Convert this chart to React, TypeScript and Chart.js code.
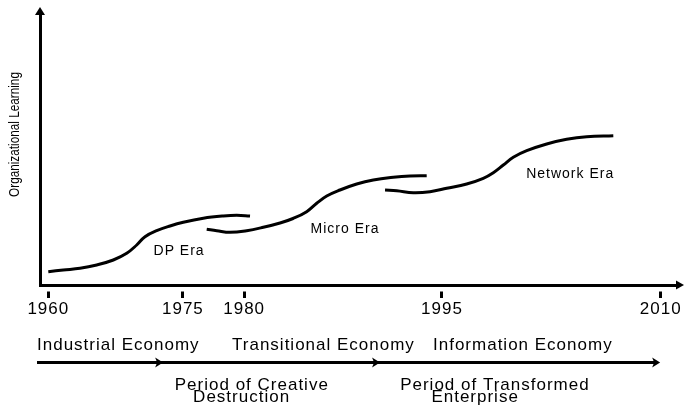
import React, { useEffect, useRef } from 'react';
import { Chart, registerables } from 'chart.js';

Chart.register(...registerables);

// ---- data (x: position on the era timeline, 0-100; y: organizational learning, 0-100) ----
const tickYears = ['1960', '1975', '1980', '1995', '2010'];
const tickPositions = [1.3, 22.4, 32.0, 63.0, 97.3];

const dpEraX = [1.3, 3.65, 6.27, 8.89, 11.49, 13.59, 15.16, 16.46, 18.29, 20.38, 22.46, 25.6, 28.73, 30.83, 32.92];
const dpEraY = [4.91, 5.54, 6.16, 7.38, 9.23, 11.7, 14.76, 17.82, 20.04, 21.77, 23.14, 24.61, 25.46, 25.72, 25.46];

const microEraX = [26.13, 27.7, 29.78, 32.4, 35.0, 37.62, 39.66, 41.8, 43.37, 44.94, 47.02, 49.64, 52.24, 55.38, 57.99, 60.61];
const microEraY = [20.55, 20.04, 19.45, 20.04, 21.29, 22.88, 24.54, 27.05, 30.15, 32.84, 35.06, 37.27, 38.75, 39.74, 40.22, 40.33];

const networkEraX = [54.08, 55.91, 58.51, 61.13, 63.75, 66.88, 69.48, 71.05, 72.62, 74.18, 76.29, 79.42, 82.55, 85.69, 89.86];
const networkEraY = [35.06, 34.8, 34.06, 34.43, 35.68, 37.27, 39.37, 41.44, 44.28, 47.12, 49.56, 52.03, 53.76, 54.72, 55.09];

const eraLabels = ['DP Era', 'Micro Era', 'Network Era'];
const eraLabelX = [21.8, 47.8, 83.1];
const eraLabelY = [11.1, 19.2, 39.5];

const economies = ['Industrial Economy', 'Transitional Economy', 'Information Economy'];
const economyStartX = [-0.47, 30.1, 61.6];
const timelineArrowTips = [19.3, 53.3, 97.2];
const periodLines = [
  ['Period of Creative', 'Destruction'],
  ['Period of Transformed', 'Enterprise'],
];
const periodCenterX = [
  [33.2, 31.6],
  [71.3, 68.2],
];
const yTitle = 'Organizational Learning';

// ---- styling ----
const FONT = "'Liberation Sans', Arial, Helvetica, sans-serif";
const INK = '#000000';

const seg = (xs: number[], ys: number[]) => xs.map((v, i) => ({ x: v, y: ys[i] }));

const lineStyle = {
  borderColor: INK,
  borderWidth: 3,
  pointRadius: 0,
  tension: 0.4,
  fill: false,
};

const decorPlugin = {
  id: 'decor',
  beforeDraw(chart: any) {
    chart.ctx.letterSpacing = '1px';
  },
  afterDatasetsDraw(chart: any) {
    const { ctx, scales } = chart;
    const { x, y } = scales;
    ctx.save();
    ctx.letterSpacing = '1px';
    ctx.fillStyle = INK;
    ctx.font = `14px ${FONT}`;
    ctx.textAlign = 'center';
    ctx.textBaseline = 'alphabetic';
    eraLabels.forEach((t, i) => {
      ctx.fillText(t, x.getPixelForValue(eraLabelX[i]), y.getPixelForValue(eraLabelY[i]));
    });
    ctx.restore();
  },
  afterDraw(chart: any) {
    const { ctx, chartArea: a, scales } = chart;
    const { x } = scales;
    ctx.save();
    ctx.fillStyle = INK;
    ctx.strokeStyle = INK;

    // axis arrowheads
    ctx.beginPath();
    ctx.moveTo(a.left, a.top - 7);
    ctx.lineTo(a.left - 5, a.top + 1);
    ctx.lineTo(a.left + 5, a.top + 1);
    ctx.closePath();
    ctx.fill();

    ctx.beginPath();
    ctx.moveTo(a.right + 6, a.bottom);
    ctx.lineTo(a.right - 2, a.bottom - 4.5);
    ctx.lineTo(a.right - 2, a.bottom + 4.5);
    ctx.closePath();
    ctx.fill();

    // y-axis title (condensed)
    ctx.save();
    ctx.letterSpacing = '0px';
    ctx.translate(19, (a.top + a.bottom) / 2 - 15);
    ctx.rotate(-Math.PI / 2);
    ctx.scale(0.84, 1);
    ctx.font = `14px ${FONT}`;
    ctx.textAlign = 'center';
    ctx.textBaseline = 'alphabetic';
    ctx.fillText(yTitle, 0, 0);
    ctx.restore();

    // economy timeline
    ctx.letterSpacing = '1px';
    ctx.font = `17px ${FONT}`;
    ctx.textBaseline = 'alphabetic';
    ctx.textAlign = 'left';
    economies.forEach((t, i) => {
      ctx.fillText(t, x.getPixelForValue(economyStartX[i]), a.bottom + 65);
    });

    const ay = a.bottom + 77.5;
    const startX = x.getPixelForValue(economyStartX[0]);
    const endX = x.getPixelForValue(timelineArrowTips[timelineArrowTips.length - 1]);
    ctx.lineWidth = 3;
    ctx.beginPath();
    ctx.moveTo(startX, ay);
    ctx.lineTo(endX - 4, ay);
    ctx.stroke();
    timelineArrowTips.forEach((v) => {
      const tx = x.getPixelForValue(v);
      ctx.beginPath();
      ctx.moveTo(tx, ay);
      ctx.lineTo(tx - 8, ay - 5);
      ctx.lineTo(tx - 6, ay);
      ctx.lineTo(tx - 8, ay + 5);
      ctx.closePath();
      ctx.fill();
    });

    ctx.textAlign = 'center';
    periodLines.forEach((lines, i) => {
      lines.forEach((t, j) => {
        ctx.fillText(t, x.getPixelForValue(periodCenterX[i][j]), a.bottom + 105 + j * 12);
      });
    });

    ctx.restore();
  },
};

export default function App() {
  const ref = useRef<HTMLCanvasElement>(null);

  useEffect(() => {
    document.body.style.margin = '0';
    const canvas = ref.current;
    if (!canvas) return;
    const chart = new Chart(canvas, {
      type: 'line',
      data: {
        datasets: [
          { label: 'DP Era', data: seg(dpEraX, dpEraY), ...lineStyle },
          { label: 'Micro Era', data: seg(microEraX, microEraY), ...lineStyle },
          { label: 'Network Era', data: seg(networkEraX, networkEraY), ...lineStyle },
        ],
      },
      options: {
        responsive: false,
        animation: false,
        events: [],
        layout: { padding: { top: 14, right: 8, left: 0, bottom: 0 } },
        plugins: {
          legend: { display: false },
          tooltip: { enabled: false },
          title: { display: false },
        },
        scales: {
          x: {
            type: 'linear',
            min: 0,
            max: 100,
            afterBuildTicks: (scale: any) => {
              scale.ticks = tickPositions.map((v) => ({ value: v }));
            },
            afterFit: (scale: any) => {
              scale.height = 121;
            },
            ticks: {
              autoSkip: false,
              maxRotation: 0,
              padding: 1,
              color: INK,
              font: { family: FONT, size: 17 },
              callback: (value: any) => {
                const i = tickPositions.indexOf(Number(value));
                return i >= 0 ? tickYears[i] : '';
              },
            },
            grid: {
              display: true,
              drawOnChartArea: false,
              drawTicks: true,
              tickLength: 13,
              tickWidth: 3,
              tickColor: INK,
              tickBorderDash: [7, 4.5],
              tickBorderDashOffset: 7,
            },
            border: { display: true, color: INK, width: 3 },
          },
          y: {
            type: 'linear',
            min: 0,
            max: 100,
            afterFit: (scale: any) => {
              scale.width = 40;
            },
            ticks: { display: false },
            grid: { display: false },
            border: { display: true, color: INK, width: 3 },
          },
        },
      },
      plugins: [decorPlugin],
    } as any);
    return () => chart.destroy();
  }, []);

  return (
    <div style={{ width: 686, height: 406, background: '#fff' }}>
      <canvas ref={ref} width={686} height={406} style={{ display: 'block' }} />
    </div>
  );
}
